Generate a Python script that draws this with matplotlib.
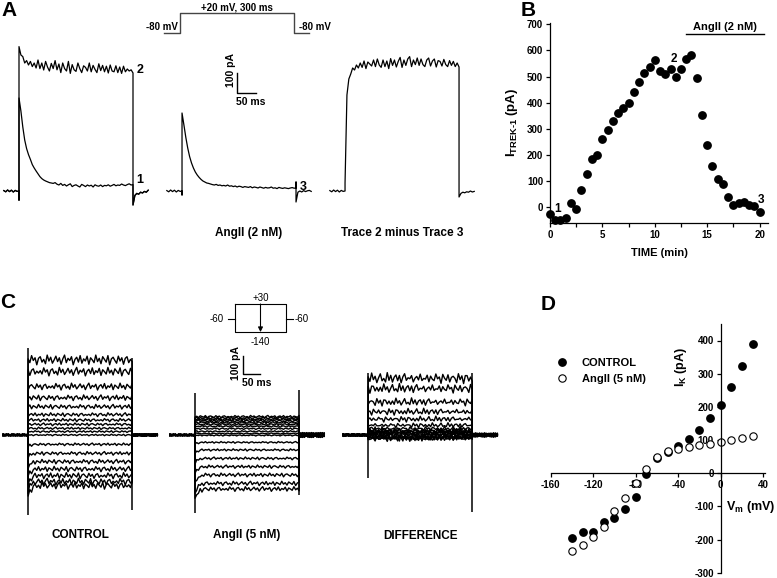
import numpy as np
import matplotlib
matplotlib.use('Agg')
import matplotlib.pyplot as plt
from matplotlib.ticker import MultipleLocator

plt.rcParams['font.family'] = ['Liberation Sans', 'DejaVu Sans']
plt.rcParams['font.weight'] = 'bold'
plt.rcParams['axes.labelweight'] = 'bold'
plt.rcParams['axes.unicode_minus'] = False
plt.rcParams['mathtext.fontset'] = 'custom'
plt.rcParams['mathtext.rm'] = 'Liberation Sans:bold'
plt.rcParams['mathtext.it'] = 'Liberation Sans:bold'
plt.rcParams['mathtext.bf'] = 'Liberation Sans:bold'

# ---------------- data ----------------
# B: TREK-1 current over time (sample every 30 s)
b_time = np.arange(0, 20.5, 0.5)
b_current = [-25, -51, -48, -41, 15, -6, 66, 126, 185, 200,
             260, 296, 328, 359, 381, 397, 440, 478, 515, 536,
             562, 522, 510, 530, 499, 530, 567, 581, 494, 351,
             236, 157, 107, 88, 40, 9, 14, 20, 8, 5, -20]

# D: I-V relation
d_vm = np.arange(-140, 31, 10)
d_control = [-196, -176, -176, -146, -136, -107, -71, -3, 45, 65,
             83, 103, 131, 168, 205, 259, 324, 390]
d_angii = [-234, -215, -193, -161, -113, -75, -30, 14, 48, 67,
           73, 80, 84, 88, 95, 101, 107, 113]

# A: current traces during the 300 ms step (pA, one sample every 5 ms)
a_trace2 = [722, 680, 672, 640, 652, 630, 648, 622, 640, 615,
            655, 612, 640, 605, 648, 620, 600, 638, 612, 652,
            606, 635, 592, 640, 612, 600, 648, 588, 632, 606,
            598, 640, 612, 592, 626, 618, 600, 640, 596, 628,
            608, 592, 636, 602, 628, 596, 624, 590, 630, 600,
            596, 626, 592, 620, 588, 624, 596, 610, 600, 606, 590]
a_trace1 = [465, 400, 320, 255, 212, 182, 158, 132, 115, 100,
            86, 72, 62, 55, 50, 46, 42, 40, 38, 42,
            34, 30, 38, 28, 33, 25, 31, 36, 22, 28,
            31, 25, 20, 33, 28, 22, 30, 25, 29, 20,
            31, 26, 24, 30, 22, 28, 26, 31, 24, 28,
            33, 26, 30, 28, 35, 30, 27, 32, 36, 30, 32]
a_trace3 = [390, 330, 268, 215, 172, 140, 115, 95, 80, 68,
            58, 50, 45, 40, 38, 35, 32, 30, 33, 28,
            30, 26, 28, 25, 30, 24, 26, 22, 25, 20,
            24, 22, 18, 22, 20, 18, 22, 16, 20, 18,
            15, 20, 17, 14, 18, 15, 16, 20, 14, 16,
            12, 18, 15, 13, 16, 14, 12, 15, 17, 14, 15]
a_diff = [40, 480, 560, 585, 615, 605, 630, 615, 640, 618,
          650, 612, 645, 635, 625, 655, 622, 660, 630, 618,
          655, 622, 650, 612, 662, 628, 655, 620, 648, 668,
          618, 655, 628, 660, 672, 622, 655, 632, 665, 628,
          660, 632, 622, 655, 665, 625, 650, 660, 620, 652,
          648, 625, 658, 632, 622, 652, 628, 648, 622, 640, 620]
a_pre = [2, -4, 5, -3, 4, -5, 3, -2, 0]
a_post12 = [-22, -12, -16, -6, -10, -2, -6, 4]
a_post3 = [-6, 0, -5, 2, -3, 1, 3, -2]
a_post_diff = [-12, -6, -9, -4, -6, 0, -5, -2]

# C: steady-state levels of the 18 sweeps (+30 ... -140 mV)
c_ctrl = [417, 352, 269, 207, 157, 113, 83, 59, 37, 19,
          0, -52, -102, -148, -189, -226, -259, -281]
c_ang = [102, 94, 86, 78, 69, 59, 48, 35, 20, 8,
         -2, -41, -83, -130, -176, -222, -269, -300]
c_wiggle = [0.2, -0.5, 0.8, -0.1, 0.4, -0.9, 0.3, 0.6, -0.4, 0.1,
            -0.7, 0.9, -0.2, 0.5, -0.6, 0.0, 0.7, -0.3, 0.4, -0.8,
            0.2, 0.9, -0.5, 0.3, -0.1, 0.6, -0.9, 0.1, 0.5, -0.4,
            0.8, -0.6, 0.2, -0.2, 0.7, -0.8, 0.4, 0.0, -0.5, 0.9,
            -0.3, 0.3, -0.7, 0.6, 0.1, -0.4, 0.8, -0.9, 0.2, 0.5,
            -0.1, -0.6, 0.7, -0.2, 0.4, -0.8, 0.3, 0.6, -0.5, 0.1, -0.3]
c_onset_dip = [1.0, 0.55, 0.3, 0.15, 0.07, 0.03]
# capacitive transients (top, bottom) at onset / offset
c_spikes = {'ctrl': [(483, -444), (428, -417)],
            'ang': [(233, -433), (250, -333)],
            'diff': [(344, -239), (344, -428)]}

# ---------------- layout helpers ----------------
W, H = 777, 578
fig = plt.figure(figsize=(W / 100, H / 100), dpi=100)


def px_axes(x0, y0, x1, y1):
    return fig.add_axes([x0 / W, 1 - y1 / H, (x1 - x0) / W, (y1 - y0) / H])


def fig_text(x, y, s, **kw):
    fig.text(x / W, 1 - y / H, s, ha='center', va='center', **kw)


for lab, x, y in [('A', 9, 11), ('B', 528, 11), ('C', 8, 303), ('D', 548, 305)]:
    fig_text(x, y, lab, fontsize=15, fontweight='bold')

# ---------------- panel A ----------------
axA = px_axes(0, 0, 480, 245)
axA.set_xlim(0, 480 / 0.38)
axA.set_ylim(-270, 955)
axA.axis('off')

t_step = np.linspace(0, 300, 61)
t_pre = np.linspace(-40, 0, 9)
t_post = np.linspace(305, 340, 8)


def a_trace(onset, step, post, on_spike, off_spike):
    t = np.concatenate([t_pre, [0] * len(on_spike), t_step, [300] * len(off_spike), t_post])
    v = np.concatenate([a_pre, on_spike, step, off_spike, post])
    axA.plot(onset + t, v, color='k', lw=0.9)


a_trace(50, a_trace2, a_post12, [-45], [-70])
a_trace(50, a_trace1, a_post12, [-45], [-70])
a_trace(479, a_trace3, a_post3, [-20], [45, -55])
a_trace(908, a_diff, a_post_diff, [], [-30])

axA.text(368, 605, '2', fontsize=9, ha='center', va='center')
axA.text(368, 55, '1', fontsize=9, ha='center', va='center')
axA.text(797, 20, '3', fontsize=9, ha='center', va='center')
axA.text(655, -210, 'AngII (2 nM)', fontsize=8.5, ha='center', va='center')
axA.text(1058, -210, 'Trace 2 minus Trace 3', fontsize=8.5, ha='center', va='center')

# scale bar 100 pA / 50 ms
axA.plot([624, 624, 674], [590, 490, 490], color='k', lw=1)
axA.text(608, 605, '100 pA', rotation=90, fontsize=7.5, ha='center', va='center')
axA.text(660, 445, '50 ms', fontsize=7.5, ha='center', va='center')

# voltage protocol
axP = px_axes(140, 0, 345, 45)
axP.set_xlim((140 - 180) / 0.38, (345 - 180) / 0.38)
axP.set_ylim(-140, 85)
axP.axis('off')
axP.plot([-42, 0, 0, 300, 300, 340], [-80, -80, 20, 20, -80, -80], color='#444444', lw=1)
axP.text(150, 24, '+20 mV, 300 ms', fontsize=7, ha='center', va='bottom')
axP.text(-6, -76, '-80 mV', fontsize=7, ha='right', va='bottom')
axP.text(312, -76, '-80 mV', fontsize=7, ha='left', va='bottom')

# ---------------- panel B ----------------
axB = px_axes(550, 23, 768, 222.7)
axB.plot(b_time, b_current, 'o', color='k', ms=5.3, clip_on=False)
axB.set_xlim(0, 20.8)
axB.set_ylim(-60, 705)
axB.set_yticks(range(0, 701, 100))
axB.set_xticks(range(0, 21, 5))
axB.xaxis.set_minor_locator(MultipleLocator(2.5))
for s in ['top', 'right']:
    axB.spines[s].set_visible(False)
for s in ['left', 'bottom']:
    axB.spines[s].set_linewidth(0.9)
axB.tick_params(which='both', direction='out', length=3, width=0.9, labelsize=7, pad=2)
axB.set_xlabel('TIME (min)', fontsize=8, labelpad=6)
axB.set_ylabel(r'I$_{\mathrm{TREK\text{-}1}}$ (pA)', fontsize=9.5, labelpad=5)
axB.plot([13.0, 20.4], [661, 661], color='k', lw=1, clip_on=False)
axB.text(16.7, 690, 'AngII (2 nM)', fontsize=8, ha='center', va='center')
axB.text(0.45, -8, '1', fontsize=8.5, ha='left', va='center')
axB.text(11.8, 568, '2', fontsize=8.5, ha='center', va='center')
axB.text(20.15, 28, '3', fontsize=8.5, ha='center', va='center')

# ---------------- panel C ----------------
axC = px_axes(0, 285, 500, 560)
axC.set_xlim(0, 500 / 0.347)
axC.set_ylim(-(560 - 435) / 0.18, (435 - 285) / 0.18)
axC.axis('off')

tc_pre = np.linspace(-72, 0, 15)
tc_post = np.linspace(300, 372, 15)
wig = np.array(c_wiggle)


def c_sweep(level, i, scale):
    nz = np.roll(wig, 7 * i) * (scale[0] + scale[1] * abs(level))
    v = level + nz
    if level < 0:
        v[:len(c_onset_dip)] += 0.2 * level * np.array(c_onset_dip)
    return v


ctrl_sweeps = [c_sweep(lev, i, (5, 0.06)) for i, lev in enumerate(c_ctrl)]
ang_sweeps = [c_sweep(lev, i + 3, (4, 0.035)) for i, lev in enumerate(c_ang)]
diff_sweeps = [c - a for c, a in zip(ctrl_sweeps, ang_sweeps)]

groups = [('ctrl', 81, ctrl_sweeps, 6, 8), ('ang', 562, ang_sweeps, 6, 15),
          ('diff', 1061, diff_sweeps, 8, 12)]
for name, onset, sweeps, pre_amp, post_amp in groups:
    for i, v in enumerate(sweeps):
        pre = np.roll(wig, 3 * i)[:15] * pre_amp
        post = np.roll(wig, 5 * i + 2)[:15] * post_amp
        t = np.concatenate([tc_pre, t_step, tc_post])
        axC.plot(onset + t, np.concatenate([pre, v, post]), color='k', lw=1.0)
    (on_hi, on_lo), (off_hi, off_lo) = c_spikes[name]
    axC.vlines([onset, onset + 300], [on_lo, off_lo], [on_hi, off_hi], color='k', lw=1.1)

axC.text(231, -556, 'CONTROL', fontsize=8.5, ha='center', va='center')
axC.text(712, -556, 'AngII (5 nM)', fontsize=8.5, ha='center', va='center')
axC.text(1211, -560, 'DIFFERENCE', fontsize=8.5, ha='center', va='center')

# scale bar 100 pA / 50 ms
axC.plot([700, 700, 750], [439, 339, 339], color='k', lw=1)
axC.text(680, 400, '100 pA', rotation=90, fontsize=7.5, ha='center', va='center')
axC.text(741, 289, '50 ms', fontsize=7.5, ha='center', va='center')

# step protocol inset
axQ = px_axes(205, 288, 320, 352)
axQ.set_xlim((205 - 235) / 0.17, (320 - 235) / 0.17)
axQ.set_ylim(30 - 48 / 0.165, 30 + 16 / 0.165)
axQ.axis('off')
axQ.plot([0, 300, 300, 0, 0], [30, 30, -140, -140, 30], color='k', lw=0.8)
axQ.plot([-41, 0], [-60, -60], color='k', lw=0.8)
axQ.plot([300, 341], [-60, -60], color='k', lw=0.8)
axQ.annotate('', xy=(150, -140), xytext=(150, 30),
             arrowprops=dict(arrowstyle='-|>', lw=0.8, color='k', mutation_scale=7,
                             shrinkA=0, shrinkB=0))
axQ.text(150, 66, '+30', fontsize=7, fontweight='normal', ha='center', va='center')
axQ.text(150, -200, '-140', fontsize=7, fontweight='normal', ha='center', va='center')
axQ.text(-106, -60, '-60', fontsize=7, fontweight='normal', ha='center', va='center')
axQ.text(394, -60, '-60', fontsize=7, fontweight='normal', ha='center', va='center')

# ---------------- panel D ----------------
axD = px_axes(550.7, 323.9, 765, 572.9)
axD.plot(d_vm, d_control, 'o', mfc='k', mec='k', ms=5.3, label='CONTROL', clip_on=False)
axD.plot(d_vm, d_angii, 'o', mfc='white', mec='k', mew=0.8, ms=5.3, label='AngII (5 nM)',
         clip_on=False)
axD.set_xlim(-160, 41.7)
axD.set_ylim(-300, 450)
axD.spines['left'].set_position(('data', 0))
axD.spines['bottom'].set_position(('data', 0))
for s in ['top', 'right']:
    axD.spines[s].set_visible(False)
for s in ['left', 'bottom']:
    axD.spines[s].set_linewidth(0.9)
axD.set_xticks(range(-160, 41, 40))
axD.set_yticks(range(-300, 401, 100))
axD.tick_params(direction='out', length=3, width=0.9, labelsize=7, pad=2)
axD.text(51, -101, r'V$_{\mathrm{m}}$ (mV)', fontsize=9, ha='right', va='center')
axD.text(-37, 320, r'I$_{\mathrm{K}}$ (pA)', fontsize=9, rotation=90, ha='center', va='center')
axD.legend(loc='upper left', bbox_to_anchor=(0.025, 0.865), frameon=False, fontsize=8,
           handlelength=1.0, handletextpad=1.3, labelspacing=0.55, borderaxespad=0,
           borderpad=0)

fig.savefig('out.png', dpi=100)
